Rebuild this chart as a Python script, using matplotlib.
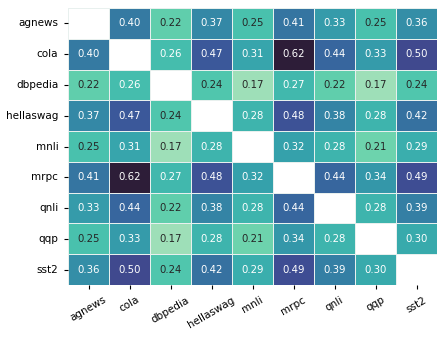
import numpy as np
import matplotlib
matplotlib.use("Agg")
import matplotlib.pyplot as plt
import seaborn as sns

tasks = ["agnews", "cola", "dbpedia", "hellaswag", "mnli", "mrpc", "qnli", "qqp", "sst2"]

row_agnews    = [np.nan, 0.40, 0.22, 0.37, 0.25, 0.41, 0.33, 0.25, 0.36]
row_cola      = [0.40, np.nan, 0.26, 0.47, 0.31, 0.62, 0.44, 0.33, 0.50]
row_dbpedia   = [0.22, 0.26, np.nan, 0.24, 0.17, 0.27, 0.22, 0.17, 0.24]
row_hellaswag = [0.37, 0.47, 0.24, np.nan, 0.28, 0.48, 0.38, 0.28, 0.42]
row_mnli      = [0.25, 0.31, 0.17, 0.28, np.nan, 0.32, 0.28, 0.21, 0.29]
row_mrpc      = [0.41, 0.62, 0.27, 0.48, 0.32, np.nan, 0.44, 0.34, 0.49]
row_qnli      = [0.33, 0.44, 0.22, 0.38, 0.28, 0.44, np.nan, 0.28, 0.39]
row_qqp       = [0.25, 0.33, 0.17, 0.28, 0.21, 0.34, 0.28, np.nan, 0.30]
row_sst2      = [0.36, 0.50, 0.24, 0.42, 0.29, 0.49, 0.39, 0.30, np.nan]

data = np.array([row_agnews, row_cola, row_dbpedia, row_hellaswag, row_mnli,
                 row_mrpc, row_qnli, row_qqp, row_sst2])
mask = np.isnan(data)

fig = plt.figure(figsize=(4.48, 3.39), dpi=100)
ax = fig.add_axes([68/448, 1 - 285/339, 369/448, 277/339])
sns.heatmap(data, mask=mask, cmap="mako_r", vmin=0.10, vmax=0.70, annot=True, fmt=".2f",
            annot_kws={"fontsize": 7.3}, linewidths=0.5, linecolor="#e8f0ee", cbar=False,
            xticklabels=tasks, yticklabels=tasks, ax=ax)
ax.tick_params(axis="both", labelsize=7.5, length=3, width=0.8, pad=4)
plt.setp(ax.get_xticklabels(), rotation=30, ha="center", rotation_mode="default")
plt.setp(ax.get_yticklabels(), rotation=0)
fig.savefig("out.png", dpi=100)
